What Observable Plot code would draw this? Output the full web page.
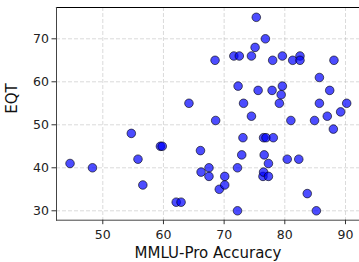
<!DOCTYPE html>
<html>
<head>
<meta charset="utf-8">
<script src="https://cdn.jsdelivr.net/npm/d3@7"></script>
<script src="https://cdn.jsdelivr.net/npm/@observablehq/plot@0.6"></script>
<style>
  html, body { margin: 0; padding: 0; background: #fff; }
  svg { display: block; }
</style>
</head>
<body>
<div id="chart"></div>
<script>
const mmlu = [44.6, 48.3, 54.7, 55.8, 56.6, 59.5, 59.8, 62.1, 62.9, 64.2, 66.1, 66.2, 67.5, 67.5, 68.5, 68.6, 69.2, 70.1, 70.1, 71.6, 72.5, 72.2, 72.2, 72.3, 72.9, 73.1, 73.2, 74.5, 74.5, 75.1, 75.3, 75.6, 76.4, 76.5, 76.6, 76.5, 76.9, 76.8, 77.3, 77.3, 77.9, 78.0, 78.1, 79.1, 79.4, 79.6, 79.6, 80.4, 81.0, 81.3, 82.3, 82.5, 82.5, 83.7, 84.9, 85.2, 85.7, 85.7, 87.0, 87.4, 88.0, 88.1, 89.2, 90.2];
const eqt  = [41, 40, 48, 42, 36, 45, 45, 32, 32, 55, 44, 39, 40, 38, 65, 51, 35, 38, 36, 66, 66, 40, 30, 59, 43, 47, 55, 52, 66, 68, 75, 58, 38, 39, 43, 47, 47, 70, 41, 38, 58, 65, 47, 55, 57, 59, 66, 42, 51, 65, 42, 66, 65, 34, 51, 30, 61, 55, 52, 58, 49, 65, 53, 55];
const xTicks = [50, 60, 70, 80, 90];
const yTicks = [30, 40, 50, 60, 70];
const xLabel = "MMLU-Pro Accuracy";
const yLabel = "EQT";

const data = mmlu.map((x, i) => ({x, y: eqt[i]}));
const font = "DejaVu Sans, sans-serif";

const chart = Plot.plot({
  width: 359,
  height: 262,
  marginLeft: 56,
  marginRight: 0,
  marginTop: 7,
  marginBottom: 42.3,
  style: {fontFamily: font, background: "#fff", overflow: "visible"},
  x: {domain: [42.37, 92.31], axis: null},
  y: {domain: [27.81, 77.28], axis: null},
  marks: [
    Plot.gridX(xTicks, {stroke: "#b0b0b0", strokeOpacity: 0.6, strokeDasharray: "4,2", strokeWidth: 0.8}),
    Plot.gridY(yTicks, {stroke: "#b0b0b0", strokeOpacity: 0.6, strokeDasharray: "4,2", strokeWidth: 0.8}),
    Plot.dot(data, {x: "x", y: "y", r: 4.3, fill: "#0000ff", fillOpacity: 0.7, stroke: "#000", strokeOpacity: 0.6, strokeWidth: 1}),
    Plot.frame({anchor: "top", stroke: "#000", strokeWidth: 1.2}),
    Plot.frame({anchor: "left", stroke: "#444", strokeWidth: 1}),
    Plot.frame({anchor: "bottom", stroke: "#444", strokeWidth: 1}),
    Plot.axisX(xTicks, {tickSize: 4.5, tickPadding: 5.8, fontSize: 12.5, label: null, stroke: "#333", fill: "#222"}),
    Plot.axisY(yTicks, {tickSize: 4.5, tickPadding: 3, fontSize: 12.5, label: null, stroke: "#333", fill: "#222"}),
    Plot.text([xLabel], {frameAnchor: "bottom", lineAnchor: "middle", dy: 33.2, fontSize: 15, fill: "#111"}),
    Plot.text([yLabel], {frameAnchor: "left", lineAnchor: "middle", dx: -44, rotate: -90, fontSize: 15, fill: "#111"})
  ]
});
document.getElementById("chart").appendChild(chart);
</script>
</body>
</html>
